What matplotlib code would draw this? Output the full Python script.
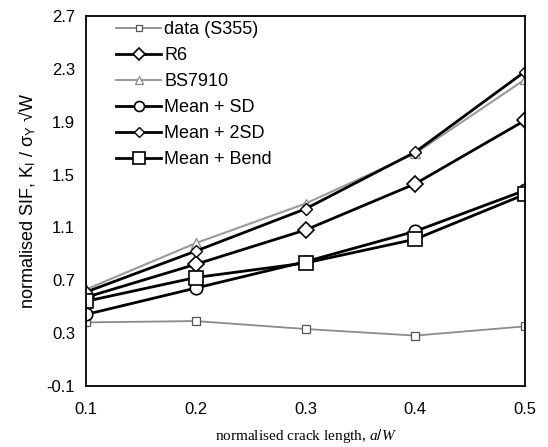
import matplotlib
matplotlib.use("Agg")
import matplotlib.pyplot as plt

plt.rcParams["font.family"] = ["Liberation Sans", "DejaVu Sans"]
plt.rcParams["mathtext.fontset"] = "custom"
plt.rcParams["mathtext.rm"] = "Liberation Sans"
plt.rcParams["mathtext.it"] = "Liberation Serif:italic"

# normalised crack length a/W
crack = [0.1, 0.2, 0.3, 0.4, 0.5]

data_s355 = [0.38, 0.39, 0.33, 0.28, 0.35]
r6 = [0.57, 0.82, 1.08, 1.43, 1.91]
bs7910 = [0.63, 0.98, 1.28, 1.66, 2.22]
mean_sd = [0.44, 0.64, 0.84, 1.07, 1.38]
mean_2sd = [0.61, 0.92, 1.24, 1.67, 2.28]
mean_bend = [0.54, 0.72, 0.83, 1.01, 1.35]

y_ticks = [-0.1, 0.3, 0.7, 1.1, 1.5, 1.9, 2.3, 2.7]
x_ticks = [0.1, 0.2, 0.3, 0.4, 0.5]

fig = plt.figure(figsize=(5.48, 4.47), dpi=100)
ax = fig.add_axes([0.157, 0.137, 0.801, 0.827])

gray = "#8a8a8a"
ax.plot(crack, data_s355, color=gray, lw=1.3, marker="s", ms=6, mfc="white",
        mec="#555555", mew=0.9, label="data (S355)")
ax.plot(crack, r6, color="black", lw=2.0, marker="D", ms=8, mfc="white",
        mec="black", mew=1.2, label="R6")
ax.plot(crack, bs7910, color="#9a9a9a", lw=1.5, marker="^", ms=7, mfc="white",
        mec="#888888", mew=0.9, label="BS7910")
ax.plot(crack, mean_sd, color="black", lw=2.0, marker="o", ms=9, mfc="white",
        mec="black", mew=1.2, label="Mean + SD")
ax.plot(crack, mean_2sd, color="black", lw=2.0, marker="D", ms=6, mfc="white",
        mec="black", mew=1.0, label="Mean + 2SD")
ax.plot(crack, mean_bend, color="black", lw=2.0, marker="s", ms=10, mfc="white",
        mec="black", mew=1.2, label="Mean + Bend")

ax.set_xlim(0.1, 0.5)
ax.set_ylim(-0.1, 2.7)
ax.set_xticks(x_ticks)
ax.set_xticklabels([f"{v:.1f}" for v in x_ticks])
ax.set_yticks(y_ticks)
ax.set_yticklabels([f"{v:.1f}" for v in y_ticks])
ax.tick_params(length=0, labelsize=12, pad=12)
ax.tick_params(axis="y", pad=8)
for s in ax.spines.values():
    s.set_linewidth(1.3)

ax.set_xlabel(r"normalised crack length, $a/W$", fontsize=11,
              fontfamily="Liberation Serif", labelpad=7)
ax.set_ylabel("normalised SIF, K$_{\\mathrm{I}}$ / σ$_{\\mathrm{Y}}$ √W",
              fontsize=13, labelpad=6)

ax.legend(loc="upper left", bbox_to_anchor=(0.04, 1.02), frameon=False,
          fontsize=13, handlelength=2.5, handletextpad=0.15, labelspacing=0.5,
          borderaxespad=0.3, markerscale=0.8)

fig.savefig("out.png", dpi=100)
